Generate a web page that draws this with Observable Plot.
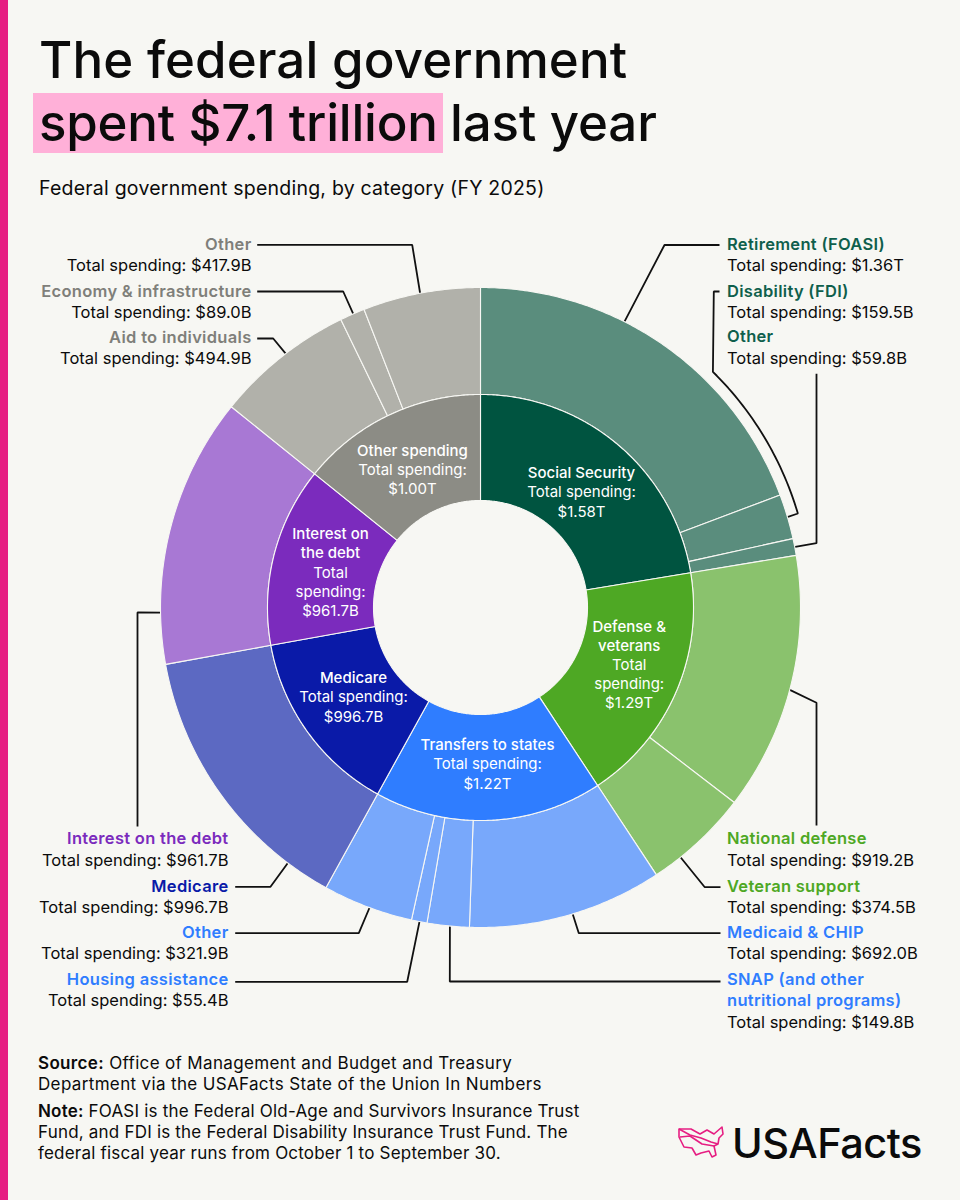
<!DOCTYPE html>
<html>
<head>
<meta charset="utf-8">
<script src="https://cdn.jsdelivr.net/npm/d3@7"></script>
<script src="https://cdn.jsdelivr.net/npm/@observablehq/plot@0.6"></script>
<style>
  html,body{margin:0;padding:0;background:#f7f7f3;}
  body{width:960px;height:1200px;position:relative;overflow:hidden;font-family:Inter,sans-serif;color:#0b0b0b;}
  #bar{position:absolute;left:0;top:0;width:8px;height:1200px;background:#e61e82;}
  #head{position:relative;height:215px;}
  #head div{position:absolute;white-space:nowrap;}
  .t{font-size:51px;font-weight:500;line-height:60px;}
  #hl{left:33px;top:93px;width:410px;height:60px;background:#ffb0d8;}
  #sub{left:39px;top:176px;font-size:19.5px;line-height:24px;letter-spacing:.22px;}
  #chart{display:block;height:825px;}
  #foot{position:absolute;left:38px;top:1053px;font-size:17px;line-height:21px;}
  #foot p{margin:0 0 6px 0;}
  #foot b{font-weight:600;}
  #logo{position:absolute;left:676px;top:1122px;}
  #word{position:absolute;left:732px;top:1118px;font-size:41.5px;line-height:50px;font-weight:500;letter-spacing:-.5px;}
  .ln{letter-spacing:.3px;}
</style>
</head>
<body>
<div id="bar"></div>
<div id="head">
  <div id="hl"></div>
  <div class="t" style="left:39px;top:30px;letter-spacing:.1px">The federal government</div>
  <div class="t" style="left:39px;top:93px;letter-spacing:-.2px">spent $7.1 trillion</div>
  <div class="t" style="left:450px;top:93px;letter-spacing:-.1px">last year</div>
  <div id="sub">Federal government spending, by category (FY 2025)</div>
</div>
<div id="chart"></div>
<div id="foot">
  <p style="letter-spacing:.35px"><b>Source:</b> Office of Management and Budget and Treasury<br>Department via the USAFacts State of the Union In Numbers</p>
  <p style="letter-spacing:.2px"><b>Note:</b> FOASI is the Federal Old-Age and Survivors Insurance Trust<br>Fund, and FDI is the Federal Disability Insurance Trust Fund. The<br>federal fiscal year runs from October 1 to September 30.</p>
</div>
<svg id="logo" width="52" height="40" viewBox="0 0 52 40" fill="none" stroke="#e61e82" stroke-width="1.6" stroke-linejoin="round">
  <path d="M3 7 L15 7 L24 12 L31 8 L38 12 L46 5 L47 12 L43 16 L42 22 L38 24 L40 33 L36 35 L33 29 L25 31 L20 33 L16 26 L8 25 L3 15 Z"/>
  <path d="M3 7 L14 13 L25 16 L35 20 L42 22"/>
  <path d="M4 15 L14 14 L26 22 L38 24"/>
</svg>
<div id="word">USAFacts</div>
<script>
// ---- data (billions of dollars, clockwise from the top) ----
const groupNames = ["Social Security","Defense & veterans","Transfers to states","Medicare","Interest on the debt","Other spending"];
const groupTotals = ["$1.58T","$1.29T","$1.22T","$996.7B","$961.7B","$1.00T"];
const groupLines = [["Social Security"],["Defense &","veterans"],["Transfers to states"],["Medicare"],["Interest on","the debt"],["Other spending"]];
const groupSpendLines = [["Total spending:"],["Total","spending:"],["Total spending:"],["Total spending:"],["Total","spending:"],["Total spending:"]];
const subNames = [
  ["Retirement (FOASI)","Disability (FDI)","Other"],
  ["National defense","Veteran support"],
  ["Medicaid & CHIP","SNAP (and other nutritional programs)","Housing assistance","Other"],
  ["Medicare"],
  ["Interest on the debt"],
  ["Aid to individuals","Economy & infrastructure","Other"]
];
const subValues = [
  [1360,159.5,59.8],
  [919.2,374.5],
  [692.0,149.8,55.4,321.9],
  [996.7],
  [961.7],
  [494.9,89.0,417.9]
];
const subLabels = [
  ["$1.36T","$159.5B","$59.8B"],
  ["$919.2B","$374.5B"],
  ["$692.0B","$149.8B","$55.4B","$321.9B"],
  ["$996.7B"],
  ["$961.7B"],
  ["$494.9B","$89.0B","$417.9B"]
];
// ---- styling ----
const innerColors = ["#005440","#4ea824","#2f7dff","#0a1aa8","#7b2bbd","#8c8c85"];
const outerColors = ["#5a8d7d","#8ac26d","#78a8fb","#5c69c2","#a878d4","#b1b1aa"];
const labelColors = ["#0f5f4c","#4ea824","#2f7dff","#0a1aa8","#7b2bbd","#7f7f7a"];
const bg = "#f7f7f3";
const cx = 480, cy = 607, r0 = 107, r1 = 213, r2 = 320;
const font = "Inter, sans-serif";

// ---- layout of annotations, page pixels ----
const innerLabelPos = [[581,473],[628.7,626.7],[487,745],[353,678],[330,534],[412,450.7]];
const lineStep = 19.1;
// group, sub index, fraction along slice where the leader touches, elbow points, label x/anchor, label y's
const labelLayout = [
  {g:0,s:0,f:.385,pts:[[664,244.5],[719,244.5]],x:726.5,a:"start",y:244},
  {g:0,s:1,f:.51,arc:[73.5,44.6,331],pts:[[713.3,291],[719,291]],x:726.5,a:"start",y:291},
  {g:0,s:2,f:.5,pts:[[816,542.7],[816,373.3]],x:726.5,a:"start",y:336.5},
  {g:1,s:0,f:.517,pts:[[816,702.3],[816,825]],x:726.5,a:"start",y:838.5},
  {g:1,s:1,f:.72,pts:[[704.3,886.7],[720,886.7]],x:726.5,a:"start",y:886},
  {g:2,s:0,f:.47,pts:[[578.3,932.7],[720,932.7]],x:726.5,a:"start",y:932},
  {g:2,s:1,f:.46,pts:[[449.3,981],[720,981]],x:726.5,a:"start",y:979,lines:["SNAP (and other","nutritional programs)"]},
  {g:2,s:2,f:.48,pts:[[406.7,981.3],[234.7,981.3]],x:228,a:"end",y:979},
  {g:2,s:3,f:.476,pts:[[358.3,932.7],[234.7,932.7]],x:228,a:"end",y:932},
  {g:3,s:0,f:.16,pts:[[270,886.3],[234.7,886.3]],x:228,a:"end",y:886},
  {g:4,s:0,f:.19,pts:[[137,612],[137,826]],x:228,a:"end",y:838.5},
  {g:5,s:0,f:.54,pts:[[272.7,338],[256.7,338]],x:251,a:"end",y:337},
  {g:5,s:1,f:.54,pts:[[342.7,291],[256.7,291]],x:251,a:"end",y:291},
  {g:5,s:2,f:.49,pts:[[411.7,244.3],[256.7,244.3]],x:251,a:"end",y:244}
];

// ---- derived ----
const total = d3.sum(subValues.flat());
const polar = (deg, r) => [cx + r*Math.sin(deg*Math.PI/180), cy - r*Math.cos(deg*Math.PI/180)];
const toDeg = v => v/total*360;
function wedge(id, a0, a1, ri, ro, fill) {
  const out = [];
  const n = Math.max(2, Math.ceil((a1-a0)/0.5));
  for (let i=0;i<=n;i++){const [x,y]=polar(a0+(a1-a0)*i/n,ro);out.push({id,x,y,fill});}
  for (let i=n;i>=0;i--){const [x,y]=polar(a0+(a1-a0)*i/n,ri);out.push({id,x,y,fill});}
  out.push({...out[0]});
  return out;
}
const outerPts = [], innerPts = [], spans = {};
let cum = 0;
subValues.forEach((vals,g)=>{
  const start = cum;
  vals.forEach((v,s)=>{
    const a0=toDeg(cum), a1=toDeg(cum+v);
    spans[g+"-"+s]=[a0,a1];
    outerPts.push(...wedge("o"+g+"-"+s,a0,a1,r1,r2,outerColors[g]));
    cum+=v;
  });
  innerPts.push(...wedge("i"+g,toDeg(start),toDeg(cum),r0,r1,innerColors[g]));
});

// leaders
const leaderPts = [];
const nameRows = [], spendRows = [];
const rowStep = 21.4;
labelLayout.forEach((l,i)=>{
  const [a0,a1]=spans[l.g+"-"+l.s];
  const path=[polar(a0+(a1-a0)*l.f,r2-1)];
  if(l.arc){
    const [from,to,r]=l.arc;
    path.push(polar(from,r+0));
    for(let k=1;k<=30;k++) path.push(polar(from+(to-from)*k/30,r));
  }
  path.push(...l.pts);
  path.forEach(([x,y])=>leaderPts.push({id:i,x,y}));
  const lines=l.lines||[subNames[l.g][l.s]];
  lines.forEach((t,k)=>nameRows.push({t,x:l.x,a:l.a,y:l.y+k*rowStep,c:labelColors[l.g]}));
  spendRows.push({t:"Total spending: "+subLabels[l.g][l.s],x:l.x,a:l.a,y:l.y+lines.length*rowStep});
});

const innerName = [], innerRest = [];
groupNames.forEach((n,g)=>{
  const [x,y]=innerLabelPos[g];
  let k=0;
  groupLines[g].forEach(t=>innerName.push({t,x,y:y+lineStep*k++}));
  groupSpendLines[g].forEach(t=>innerRest.push({t,x,y:y+lineStep*k++}));
  innerRest.push({t:groupTotals[g],x,y:y+lineStep*k++});
});

const textBase = {x:"x",y:"y",text:"t",fontFamily:font,fontSize:16.5};
const plot = Plot.plot({
  width:960,height:825,margin:0,
  style:{background:"transparent",fontFamily:font,overflow:"visible"},
  x:{domain:[0,960],range:[0,960],axis:null},
  y:{domain:[215,1040],range:[0,825],axis:null},
  color:{type:"identity"},
  marks:[
    Plot.line(leaderPts,{x:"x",y:"y",z:"id",stroke:"#111",strokeWidth:1.8,strokeLinejoin:"miter",strokeLinecap:"butt"}),
    Plot.line(outerPts,{x:"x",y:"y",z:"id",fill:"fill",stroke:bg,strokeWidth:1.1}),
    Plot.line(innerPts,{x:"x",y:"y",z:"id",fill:"fill",stroke:bg,strokeWidth:1.1}),
    Plot.text(innerName,{...textBase,fill:"#fff",fontSize:15,fontWeight:500,textAnchor:"middle"}),
    Plot.text(innerRest,{...textBase,fill:"#fff",fontSize:15,textAnchor:"middle"}),
    Plot.text(nameRows.filter(d=>d.a==="start"),{...textBase,fill:"c",fontWeight:600,textAnchor:"start",className:"ln"}),
    Plot.text(nameRows.filter(d=>d.a==="end"),{...textBase,fill:"c",fontWeight:600,textAnchor:"end",className:"ln"}),
    Plot.text(spendRows.filter(d=>d.a==="start"),{...textBase,fill:"#0b0b0b",textAnchor:"start"}),
    Plot.text(spendRows.filter(d=>d.a==="end"),{...textBase,fill:"#0b0b0b",textAnchor:"end"})
  ]
});
document.getElementById("chart").appendChild(plot);
</script>
</body>
</html>
